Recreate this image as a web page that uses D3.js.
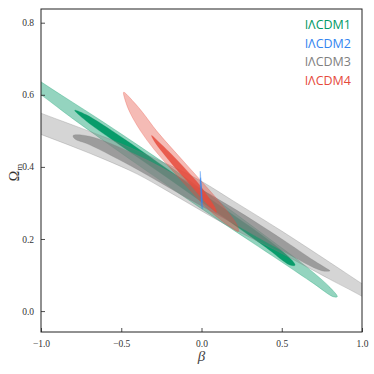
<!DOCTYPE html>
<html>
<head>
<meta charset="utf-8">
<script src="https://cdn.jsdelivr.net/npm/d3@7"></script>
<style>
  body { margin: 0; background: #fff; }
  svg { display: block; }
</style>
</head>
<body>
<div id="chart"></div>
<script>
// contour outlines, as [beta, Omega_m] vertices
var models = ["I\u039BCDM1", "I\u039BCDM2", "I\u039BCDM3", "I\u039BCDM4"];
var colors = ["#009966", "#3385f0", "#808080", "#e64b3c"];

var green2s = [[-1.3, 0.728], [-1.0, 0.636], [-0.6, 0.521], [-0.2, 0.401], [0.0, 0.338], [0.2, 0.274], [0.4, 0.208], [0.6, 0.142], [0.7, 0.106], [0.8, 0.066],
  [0.846, 0.040],
  [0.82, 0.040], [0.7, 0.076], [0.5, 0.136], [0.3, 0.195], [0.0, 0.284], [-0.4, 0.407], [-0.8, 0.533], [-1.0, 0.600], [-1.3, 0.692]];
var green1s = [[-0.79, 0.557], [-0.72, 0.545], [-0.5, 0.483], [-0.2, 0.39], [0.1, 0.297], [0.4, 0.203], [0.52, 0.160], [0.575, 0.135],
  [0.583, 0.127],
  [0.55, 0.128], [0.4, 0.177], [0.1, 0.272], [-0.2, 0.366], [-0.5, 0.458], [-0.72, 0.528]];

var blue2s = [[-0.008, 0.388], [-0.003, 0.36], [0.003, 0.32], [0.007, 0.29], [0.006, 0.283], [0.0, 0.29], [-0.004, 0.32], [-0.009, 0.36]];
var blue1s = [[-0.005, 0.37], [0.0, 0.34], [0.004, 0.305], [0.002, 0.30], [-0.002, 0.33], [-0.006, 0.36]];

var gray2s = [[-1.3, 0.60], [-1.0, 0.549], [-0.6, 0.482], [-0.4, 0.445], [-0.2, 0.405], [0.0, 0.36], [0.2, 0.305], [0.5, 0.222], [0.8, 0.135], [1.0, 0.076], [1.3, -0.01],
  [1.3, -0.04], [1.0, 0.041], [0.8, 0.088], [0.5, 0.16], [0.2, 0.228], [0.0, 0.278], [-0.2, 0.33], [-0.4, 0.38], [-0.6, 0.42], [-0.8, 0.456], [-1.0, 0.490], [-1.3, 0.54]];
var gray1s = [[-0.80, 0.487], [-0.7, 0.485], [-0.4, 0.432], [-0.1, 0.362], [0.2, 0.285], [0.5, 0.2], [0.7, 0.14], [0.78, 0.118],
  [0.80, 0.112],
  [0.75, 0.112], [0.5, 0.168], [0.2, 0.243], [-0.1, 0.316], [-0.4, 0.393], [-0.7, 0.462], [-0.79, 0.478]];

var red2s = [[-0.485, 0.607], [-0.422, 0.58], [-0.365, 0.55], [-0.28, 0.50], [-0.182, 0.45], [-0.081, 0.40], [0.02, 0.35], [0.118, 0.30], [0.19, 0.26], [0.225, 0.235],
  [0.229, 0.221],
  [0.175, 0.235], [0.10, 0.26], [0.002, 0.30], [-0.10, 0.35], [-0.201, 0.40], [-0.298, 0.45], [-0.38, 0.50], [-0.445, 0.55], [-0.472, 0.58]];
var red1s = [[-0.311, 0.487], [-0.268, 0.47], [-0.198, 0.44], [-0.112, 0.40], [-0.012, 0.35], [0.052, 0.31], [0.086, 0.285],
  [0.093, 0.274],
  [0.062, 0.285], [0.008, 0.31], [-0.068, 0.35], [-0.168, 0.40], [-0.242, 0.44], [-0.292, 0.47]];

var xTicks = [-1.0, -0.5, 0.0, 0.5, 1.0];
var yTicks = [0.0, 0.2, 0.4, 0.6, 0.8];
var xLim = [-1, 1];
var yLim = [-0.058, 0.838];

var svgWidth = 374, svgHeight = 374;
var margin = {top: 9, right: 12, bottom: 42, left: 41};
var width = svgWidth - margin.left - margin.right;
var height = svgHeight - margin.top - margin.bottom;
var serif = "'Liberation Serif', 'DejaVu Serif', serif";

var svgBG = d3.select("#chart").append("svg")
    .attr("width", svgWidth)
    .attr("height", svgHeight);
var svg = svgBG.append("g")
    .attr("transform", "translate(" + margin.left + "," + margin.top + ")");

var x = d3.scaleLinear().domain(xLim).range([0, width]);
var y = d3.scaleLinear().domain(yLim).range([height, 0]);

svg.append("clipPath").attr("id", "plotClip")
  .append("rect").attr("width", width).attr("height", height);

var line = d3.line()
    .x(function(d) { return x(d[0]); })
    .y(function(d) { return y(d[1]); })
    .curve(d3.curveCatmullRomClosed.alpha(0.5));

var plot = svg.append("g").attr("clip-path", "url(#plotClip)");

// outer (2 sigma) light, inner (1 sigma) dark
var layers = [
  {pts: green2s, c: colors[0], op: 0.42},
  {pts: green1s, c: colors[0], op: 0.95},
  {pts: gray2s, c: colors[2], op: 0.33},
  {pts: gray1s, c: colors[2], op: 0.68},
  {pts: red2s, c: colors[3], op: 0.38},
  {pts: red1s, c: colors[3], op: 0.85},
  {pts: blue2s, c: colors[1], op: 0.5},
  {pts: blue1s, c: colors[1], op: 0.95}
];

plot.selectAll("path.contour")
    .data(layers)
    .enter().append("path")
    .attr("class", "contour")
    .attr("d", function(d) { return line(d.pts); })
    .style("fill", function(d) { return d.c; })
    .style("fill-opacity", function(d) { return d.op; })
    .style("stroke", function(d) { return d.c; })
    .style("stroke-opacity", 0.5)
    .style("stroke-width", 0.6);

var fmt = function(v) { return d3.format(".1f")(v).replace("-", "\u2212"); };

var xAxis = d3.axisBottom(x).tickValues(xTicks).tickFormat(fmt).tickSizeInner(-4).tickSizeOuter(0).tickPadding(8);
var yAxis = d3.axisLeft(y).tickValues(yTicks).tickFormat(fmt).tickSizeInner(-4).tickSizeOuter(0).tickPadding(7);

var xAxisSVG = svg.append("g")
    .attr("class", "x axis")
    .attr("transform", "translate(0," + height + ")")
    .call(xAxis);
var yAxisSVG = svg.append("g")
    .attr("class", "y axis")
    .call(yAxis);
xAxisSVG.select(".domain").remove();
yAxisSVG.select(".domain").remove();
svg.selectAll(".tick line").style("stroke", "#222").style("stroke-width", 0.8);
svg.selectAll(".tick text")
    .style("font-family", serif)
    .style("font-size", "9.5px")
    .style("fill", "#333");

// frame
svg.append("rect")
    .attr("width", width)
    .attr("height", height)
    .style("fill", "none")
    .style("stroke", "#222")
    .style("stroke-width", 1);

// axis labels
svg.append("text")
    .attr("x", width / 2)
    .attr("y", height + 29)
    .style("text-anchor", "middle")
    .style("font-family", serif)
    .style("font-style", "italic")
    .style("font-size", "15px")
    .style("fill", "#444")
    .text("\u03B2");

var yl = svg.append("text")
    .attr("transform", "translate(" + (-22) + "," + (height / 2 + 2) + ") rotate(-90)")
    .style("text-anchor", "middle")
    .style("font-family", serif)
    .style("font-size", "14px")
    .style("fill", "#333");
yl.append("tspan").text("\u03A9");
yl.append("tspan").attr("dy", 3).style("font-size", "9px").text("m");

// legend
svg.selectAll("text.legend")
    .data(models)
    .enter().append("text")
    .attr("class", "legend")
    .attr("x", width - 11)
    .attr("y", function(d, i) { return 20 + i * 18.6; })
    .style("text-anchor", "end")
    .style("font-family", "'Open Sans', sans-serif")
    .style("font-size", "12.5px")
    .style("fill", function(d, i) { return colors[i]; })
    .text(function(d) { return d; });
</script>
</body>
</html>
